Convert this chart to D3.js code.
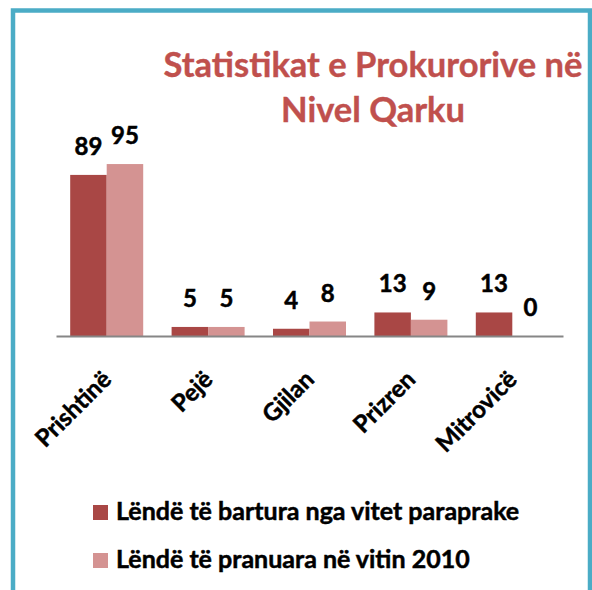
<!DOCTYPE html>
<html lang="en">
<head>
    <meta charset="UTF-8">
    <script src="https://d3js.org/d3.v7.min.js"></script>
    <title>Statistikat e Prokurorive në Nivel Qarku</title>
    <style>
        body { margin: 0; background: #fff; }
        svg { display: block; font-family: Lato, sans-serif; font-weight: bold; }
        .dark { fill: #000; stroke: #000; stroke-width: 0.5px; }
    </style>
</head>
<body>
    <svg width="592" height="590"></svg>

    <script>
        var categories = ["Prishtinë", "Pejë", "Gjilan", "Prizren", "Mitrovicë"];
        var seriesNames = ["Lëndë të bartura nga vitet paraprake", "Lëndë të pranuara në vitin 2010"];
        var bartura = [89, 5, 4, 13, 13];
        var pranuara = [95, 5, 8, 9, 0];
        var titleLines = ["Statistikat e Prokurorive në", "Nivel Qarku"];

        var colors = ["#a94745", "#d49392"];

        var svg = d3.select("svg");

        // frame
        svg.append("rect")
            .attr("x", 13).attr("y", 10.5)
            .attr("width", 577).attr("height", 600)
            .attr("fill", "#fff")
            .attr("stroke", "#4bacc6")
            .attr("stroke-width", 4.5);

        // title
        svg.append("g").selectAll("text")
            .data(titleLines)
            .enter().append("text")
            .attr("x", 373)
            .attr("y", (d, i) => 77 + i * 45)
            .attr("text-anchor", "middle")
            .attr("fill", "#c0504d")
            .attr("stroke", "#c0504d")
            .attr("stroke-width", 0.4)
            .style("font-size", "34.5px")
            .text(d => d);

        var xScale = d3.scaleBand()
            .domain(categories)
            .range([56, 563])
            .paddingInner(0.28)
            .paddingOuter(0.14);

        var xSub = d3.scaleBand()
            .domain([0, 1])
            .range([0, xScale.bandwidth()]);

        var yScale = d3.scaleLinear().domain([0, 100]).range([336, 155]);

        var rows = categories.map((c, i) => ({cat: c, vals: [bartura[i], pranuara[i]]}));

        var groups = svg.append("g").selectAll("g")
            .data(rows)
            .enter().append("g")
            .attr("transform", d => "translate(" + xScale(d.cat) + ",0)");

        groups.selectAll("rect")
            .data(d => d.vals)
            .enter().append("rect")
            .attr("x", (d, i) => xSub(i))
            .attr("y", d => yScale(d))
            .attr("width", xSub.bandwidth())
            .attr("height", d => yScale(0) - yScale(d))
            .attr("fill", (d, i) => colors[i]);

        groups.selectAll("text")
            .data(d => d.vals)
            .enter().append("text")
            .attr("class", "dark")
            .attr("x", (d, i) => xSub(i) + xSub.bandwidth() / 2)
            .attr("y", d => yScale(d) - 20)
            .attr("text-anchor", "middle")
            .style("font-size", "24px")
            .text(d => d);

        // x axis
        var xAxis = svg.append("g")
            .attr("transform", "translate(0," + yScale(0) + ")")
            .call(d3.axisBottom(xScale).tickSize(0).tickSizeOuter(0));

        xAxis.select(".domain")
            .attr("stroke", "#868686")
            .attr("stroke-width", 2);

        xAxis.selectAll(".tick text")
            .attr("class", "dark")
            .attr("x", 0).attr("y", 0).attr("dy", 0)
            .attr("text-anchor", "end")
            .attr("transform", "translate(6,45) rotate(-45)")
            .style("font-family", "Lato, sans-serif")
            .style("font-weight", "bold")
            .style("font-size", "24px");

        // legend
        var legend = svg.append("g").selectAll("g")
            .data(seriesNames)
            .enter().append("g")
            .attr("transform", (d, i) => "translate(93," + (505 + i * 48) + ")");

        legend.append("rect")
            .attr("width", 15).attr("height", 15)
            .attr("fill", (d, i) => colors[i]);

        legend.append("text")
            .attr("class", "dark")
            .attr("x", 23).attr("y", 15)
            .style("font-size", "25px")
            .text(d => d);
    </script>
</body>
</html>
